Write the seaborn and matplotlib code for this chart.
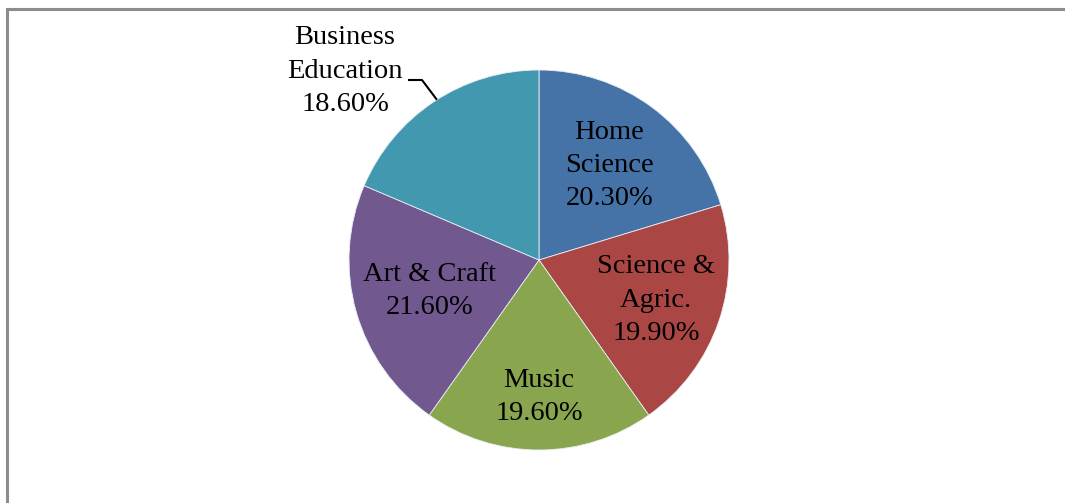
import numpy as np
import matplotlib
matplotlib.use("Agg")
import matplotlib.pyplot as plt
import seaborn as sns
from matplotlib.patches import Rectangle

sns.set_theme(style="white")
plt.rcParams["font.family"] = ["Liberation Serif", "DejaVu Serif"]

# Share of respondents by subject area
subjects = ["Home\nScience", "Science &\nAgric.", "Music", "Art & Craft", "Business\nEducation"]
shares = [20.30, 19.90, 19.60, 21.60, 18.60]
colors = ["#4572A7", "#AA4643", "#89A54E", "#71588F", "#4198AF"]

# radial position of each in-slice label (fraction of radius)
label_radius = [0.62, 0.65, 0.72, 0.60, None]

W, H, DPI = 1065, 503, 100
fig = plt.figure(figsize=(W / DPI, H / DPI), dpi=DPI)
fig.patch.set_facecolor("white")

# chart frame (runs off the right and bottom edges)
fig.add_artist(Rectangle((6.5 / W, -0.1), 1.2, (H - 8.5) / H + 0.1,
                         transform=fig.transFigure, fill=False,
                         edgecolor="#8c8c8c", linewidth=2.2))

cx, cy, r = 539, 260, 190
ax = fig.add_axes([(cx - r) / W, (H - cy - r) / H, 2 * r / W, 2 * r / H])

wedges, _ = ax.pie(shares, colors=colors, startangle=90, counterclock=False,
                   radius=1.0, center=(0, 0),
                   wedgeprops=dict(edgecolor="#e8eef5", linewidth=0.6))
ax.set_xlim(-1, 1)
ax.set_ylim(-1, 1)
ax.set_aspect("equal")
ax.axis("off")

fs = 20.5
ls = 1.43
for w, name, val, lr in zip(wedges, subjects, shares, label_radius):
    mid = np.deg2rad((w.theta1 + w.theta2) / 2)
    text = f"{name}\n{val:.2f}%"
    if lr is not None:
        ax.text(lr * np.cos(mid), lr * np.sin(mid), text, ha="center", va="center",
                fontsize=fs, color="black", linespacing=ls)
    else:
        # outside label with a leader line
        ex, ey = np.cos(np.deg2rad(122.5)), np.sin(np.deg2rad(122.5))
        kx, ky = (422 - cx) / r, (cy - 80) / r
        hx = (408 - cx) / r
        ax.plot([ex, kx, hx], [ey, ky, ky], color="black", lw=1.5,
                clip_on=False, solid_capstyle="butt")
        ax.text((345 - cx) / r, (cy - 71) / r, text, ha="center", va="center",
                fontsize=fs, color="black", linespacing=ls)

fig.savefig("out.png", dpi=DPI, facecolor="white")
